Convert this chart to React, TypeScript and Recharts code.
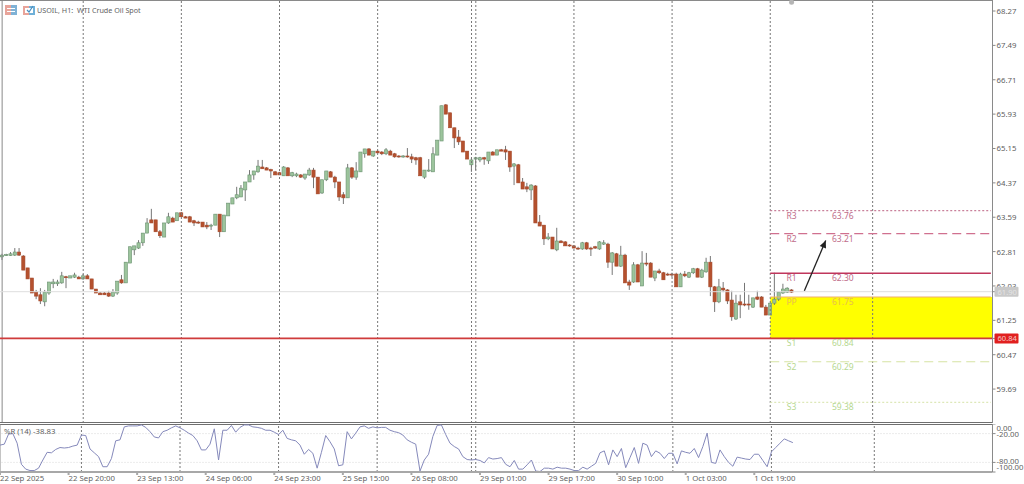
import React from 'react';
import {
  ComposedChart,
  Bar,
  Line,
  XAxis,
  YAxis,
  ReferenceLine,
  ReferenceArea,
  ReferenceDot,
} from 'recharts';

const opens = [
  62.69, 62.73, 62.72, 62.73, 62.8, 62.71, 62.44, 62.21, 61.89, 61.83,
  61.67, 61.87, 62.08, 62.08, 62.1, 62.24, 62.21, 62.23, 62.23, 62.19,
  62.26, 62.19, 61.96, 61.87, 61.87, 61.87, 61.8, 61.87, 62.17, 62.1,
  62.55, 62.85, 62.89, 63.01, 63.23, 63.53, 63.53, 63.26, 63.14, 63.46,
  63.57, 63.51, 63.69, 63.6, 63.6, 63.51, 63.48, 63.48, 63.41, 63.39,
  63.41, 63.66, 63.26, 63.62, 63.89, 64.03, 64.05, 64.21, 64.39, 64.55,
  64.62, 64.73, 64.71, 64.67, 64.62, 64.6, 64.53, 64.71, 64.53, 64.53,
  64.55, 64.48, 64.55, 64.66, 64.5, 64.14, 64.44, 64.62, 64.5, 64.39,
  64.1, 64.03, 64.71, 64.5, 64.62, 65.03, 65.14, 64.98, 65.09, 65.07,
  65.03, 65.09, 65.03, 64.98, 64.96, 64.98, 64.96, 64.94, 64.94, 64.5,
  64.64, 64.62, 65.0, 65.32, 66.14, 65.96, 65.62, 65.41, 65.32, 65.09,
  64.78, 64.91, 64.89, 64.94, 64.87, 65.07, 65.0, 65.12, 65.12, 65.09,
  64.75, 64.78, 64.39, 64.28, 64.21, 64.3, 63.48, 63.41, 63.1, 63.14,
  62.85, 63.05, 63.03, 62.96, 62.94, 62.89, 62.87, 63.01, 62.89, 62.92,
  62.87, 62.98, 62.98, 62.57, 62.76, 62.48, 62.73, 62.12, 62.12, 62.51,
  62.03, 62.55, 62.55, 62.21, 62.37, 62.33, 62.3, 62.3, 62.3, 62.01,
  62.3, 62.23, 62.33, 62.42, 62.23, 62.35, 62.57, 62.01, 61.67, 61.98,
  61.94, 61.71, 61.28, 61.67, 61.62, 61.62, 61.55, 61.78, 61.78, 61.55,
  61.37, 61.64, 61.73, 61.87, 61.89, 61.94,
];
const highs = [
  62.76, 62.76, 62.8, 62.89, 62.89, 62.73, 62.44, 62.21, 61.94, 61.98,
  61.94, 62.12, 62.19, 62.17, 62.35, 62.26, 62.26, 62.33, 62.26, 62.3,
  62.3, 62.19, 61.96, 61.89, 61.89, 61.92, 61.96, 62.14, 62.28, 62.57,
  62.92, 62.94, 63.07, 63.23, 63.57, 63.78, 63.53, 63.3, 63.46, 63.69,
  63.6, 63.69, 63.71, 63.62, 63.62, 63.53, 63.51, 63.48, 63.48, 63.44,
  63.66, 63.66, 63.64, 63.91, 64.03, 64.28, 64.32, 64.39, 64.66, 64.64,
  64.89, 64.89, 64.73, 64.69, 64.64, 64.62, 64.75, 64.73, 64.62, 64.6,
  64.57, 64.57, 64.71, 64.71, 64.5, 64.44, 64.64, 64.64, 64.53, 64.39,
  64.16, 64.8, 64.73, 64.84, 65.07, 65.14, 65.16, 65.09, 65.12, 65.09,
  65.16, 65.12, 65.05, 65.0, 65.0, 65.16, 65.03, 64.96, 64.96, 64.66,
  64.91, 65.18, 65.34, 66.12, 66.16, 65.96, 65.62, 65.57, 65.32, 65.09,
  64.94, 64.96, 64.96, 64.96, 65.07, 65.09, 65.12, 65.14, 65.21, 65.09,
  64.82, 64.8, 64.48, 64.37, 64.34, 64.32, 63.64, 63.41, 63.23, 63.14,
  63.35, 63.07, 63.05, 62.98, 62.96, 62.92, 63.03, 63.03, 62.92, 62.94,
  63.05, 63.07, 63.01, 62.8, 62.78, 62.94, 62.76, 62.17, 62.57, 62.53,
  62.82, 62.78, 62.57, 62.37, 62.42, 62.35, 62.33, 62.33, 62.33, 62.33,
  62.37, 62.35, 62.44, 62.44, 62.42, 62.67, 62.71, 62.03, 62.19, 62.12,
  61.96, 61.92, 61.83, 61.83, 62.1, 61.83, 61.76, 61.92, 61.8, 61.6,
  61.64, 62.33, 61.89, 62.08, 62.0, 61.96,
];
const lows = [
  62.62, 62.71, 62.71, 62.71, 62.71, 62.39, 62.19, 61.87, 61.73, 61.62,
  61.57, 61.83, 61.98, 62.03, 62.08, 61.98, 62.21, 62.21, 62.19, 62.17,
  62.19, 61.96, 61.87, 61.83, 61.83, 61.78, 61.78, 61.83, 62.08, 62.1,
  62.55, 62.73, 62.87, 62.94, 63.23, 63.46, 63.26, 63.12, 63.14, 63.44,
  63.48, 63.51, 63.6, 63.57, 63.48, 63.39, 63.44, 63.37, 63.32, 63.3,
  63.41, 63.14, 63.26, 63.62, 63.89, 64.0, 64.05, 63.96, 64.39, 64.44,
  64.6, 64.69, 64.66, 64.48, 64.55, 64.55, 64.53, 64.53, 64.5, 64.5,
  64.48, 64.44, 64.53, 64.25, 64.12, 64.12, 64.41, 64.5, 64.25, 63.96,
  63.89, 64.03, 64.46, 64.44, 64.62, 64.94, 65.0, 64.96, 65.05, 65.0,
  65.0, 65.0, 64.94, 64.94, 64.94, 64.94, 64.82, 64.78, 64.53, 64.46,
  64.62, 64.62, 65.0, 65.32, 65.93, 65.62, 65.16, 65.23, 65.07, 64.91,
  64.62, 64.66, 64.84, 64.78, 64.8, 65.0, 65.0, 65.09, 64.89, 64.62,
  64.32, 64.37, 64.23, 64.16, 63.98, 63.46, 63.39, 62.96, 63.07, 62.87,
  62.82, 63.01, 62.94, 62.92, 62.89, 62.85, 62.85, 62.85, 62.71, 62.87,
  62.85, 62.96, 62.44, 62.28, 62.48, 62.46, 62.1, 61.94, 62.1, 62.12,
  62.03, 62.48, 62.23, 62.14, 62.3, 62.17, 62.26, 62.23, 62.01, 62.01,
  62.23, 62.21, 62.3, 62.23, 62.21, 62.33, 61.8, 61.44, 61.64, 61.89,
  61.62, 61.24, 61.26, 61.3, 61.57, 61.49, 61.53, 61.71, 61.55, 61.37,
  61.37, 61.6, 61.69, 61.85, 61.87, 61.87,
];
const closes = [
  62.73, 62.74, 62.76, 62.8, 62.73, 62.39, 62.19, 61.87, 61.8, 61.69,
  61.89, 62.12, 62.12, 62.12, 62.26, 62.23, 62.26, 62.28, 62.19, 62.26,
  62.19, 61.96, 61.87, 61.83, 61.83, 61.8, 61.89, 62.14, 62.1, 62.57,
  62.92, 62.94, 63.01, 63.23, 63.46, 63.46, 63.26, 63.17, 63.46, 63.6,
  63.48, 63.69, 63.6, 63.57, 63.48, 63.46, 63.46, 63.37, 63.37, 63.41,
  63.66, 63.26, 63.64, 63.91, 64.03, 64.1, 64.25, 64.39, 64.55, 64.64,
  64.75, 64.69, 64.66, 64.64, 64.55, 64.55, 64.73, 64.53, 64.6, 64.57,
  64.5, 64.57, 64.66, 64.5, 64.12, 64.44, 64.64, 64.5, 64.39, 64.05,
  64.03, 64.71, 64.5, 64.64, 65.07, 65.14, 65.0, 65.09, 65.05, 65.03,
  65.12, 65.0, 64.96, 64.96, 64.98, 64.96, 64.91, 64.89, 64.53, 64.66,
  64.66, 65.03, 65.34, 66.12, 65.93, 65.62, 65.39, 65.3, 65.07, 64.91,
  64.89, 64.94, 64.94, 64.91, 65.07, 65.0, 65.12, 65.09, 65.07, 64.73,
  64.8, 64.37, 64.23, 64.23, 64.32, 63.46, 63.39, 63.1, 63.14, 62.87,
  63.05, 63.01, 62.94, 62.94, 62.89, 62.87, 63.01, 62.87, 62.87, 62.89,
  63.03, 63.01, 62.57, 62.78, 62.48, 62.73, 62.1, 62.05, 62.51, 62.12,
  62.55, 62.53, 62.23, 62.37, 62.33, 62.17, 62.28, 62.28, 62.01, 62.3,
  62.26, 62.33, 62.42, 62.23, 62.39, 62.57, 62.01, 61.67, 62.01, 61.94,
  61.69, 61.33, 61.64, 61.6, 61.6, 61.6, 61.76, 61.73, 61.55, 61.37,
  61.64, 61.73, 61.89, 61.96, 61.98, 61.89,
];
const williams = [
  -44, -42, -21, -20, -40, -84, -94, -97, -97, -92,
  -75, -59, -60, -53, -49, -50, -49, -46, -44, -23,
  -24, -52, -60, -68, -89, -89, -72, -35, -33, -6,
  -4, -4, -4, -2, -7, -16, -27, -29, -16, -13,
  -8, -4, -8, -13, -19, -24, -35, -54, -54, -42,
  -10, -75, -13, -13, -3, -17, -7, -2, -2, -6,
  -7, -9, -13, -13, -17, -22, -13, -30, -33, -35,
  -44, -63, -53, -61, -92, -59, -24, -37, -52, -87,
  -85, -16, -31, -19, -6, -4, -9, -6, -8, -7,
  -7, -13, -16, -18, -23, -33, -38, -42, -98, -75,
  -63, -26, -3, -2, -22, -40, -47, -52, -68, -74,
  -75, -74, -76, -81, -70, -73, -72, -70, -84, -89,
  -76, -94, -94, -85, -75, -98, -99, -92, -92, -94,
  -90, -92, -92, -94, -97, -97, -90, -94, -88, -82,
  -60, -56, -85, -54, -68, -51, -91, -70, -49, -82,
  -40, -44, -68, -56, -61, -72, -61, -61, -83, -56,
  -59, -61, -51, -70, -47, -19, -80, -82, -54, -68,
  -80, -88, -69, -71, -73, -74, -63, -63, -76, -89,
  -58, -49, -40, -31, -35, -38.83,
];

const TOTAL_BARS = 232;
const priceTicks = [68.27, 67.49, 66.71, 65.93, 65.15, 64.37, 63.59, 62.81, 62.03, 61.25, 60.47, 59.69];
const bidPrice = 61.9;
const lastLevel = 60.84;
const wprTicks = [0, -20, -80, -100];
const timeTickBars = [0, 16, 32, 48, 64, 80, 96, 112, 128, 144, 160, 176];
const timeTickLabels = [
  '22 Sep 2025', '22 Sep 20:00', '23 Sep 13:00', '24 Sep 06:00', '24 Sep 23:00', '25 Sep 15:00',
  '26 Sep 08:00', '29 Sep 01:00', '29 Sep 17:00', '30 Sep 10:00', '1 Oct 03:00', '1 Oct 19:00',
];
const separatorBars = [19, 42, 65, 88, 110, 111, 134, 157, 180, 204];

const pivotStart = 180;
const pivotEnd = 231;
const pivotNames = ['R3', 'R2', 'R1', 'PP', 'S1', 'S2', 'S3'];
const pivotLabels = ['63.76', '63.21', '62.30', '61.75', '60.84', '60.29', '59.38'];
const pivotLevels = [63.74, 63.22, 62.32, 61.78, 60.84, 60.31, 59.39];
const pivotColors = ['#c9809a', '#d0708f', '#c0365c', '#f0b070', '#c8d888', '#d6e4a4', '#dde8b8'];
const pivotTextColors = ['#c06c8a', '#c06c8a', '#c06c8a', '#e8bb50', '#b6d890', '#b6d890', '#b6d890'];
const pivotDash = ['2 2', '9 5', undefined, undefined, undefined, '9 5', '2 2'];

const rows = Array.from({ length: TOTAL_BARS }, (_, i) =>
  i < opens.length
    ? { bar: i, open: opens[i], high: highs[i], low: lows[i], close: closes[i], range: [lows[i], highs[i]], wpr: williams[i] }
    : { bar: i },
);

const FONT = '"Noto Sans", sans-serif';
const TEXT = '#5f5f5f';
const margin = { top: 0, right: 0, bottom: 0, left: 0 };
const xPadding = { left: 0, right: 2.5 };

function Candle(props: any) {
  const { x, y, width, height, payload } = props;
  if (payload.high === undefined) return null;
  const perPrice = height / (payload.high - payload.low);
  const cx = x + width / 2;
  const up = payload.close >= payload.open;
  const top = y + (payload.high - Math.max(payload.open, payload.close)) * perPrice;
  const bodyH = Math.abs(payload.close - payload.open) * perPrice;
  return (
    <g>
      <line x1={cx} x2={cx} y1={y} y2={y + height} stroke="#666" strokeWidth={0.9} />
      <rect
        x={cx - 1.6}
        y={top}
        width={3.2}
        height={Math.max(bodyH, 1)}
        fill={up ? '#9cc49c' : '#b5512e'}
        stroke={up ? '#6a9270' : '#a5482a'}
        strokeWidth={0.6}
      />
    </g>
  );
}

function PriceTick({ x, y, payload }: any) {
  const value = payload.value;
  const text = value.toFixed(2);
  if (value === bidPrice || value === lastLevel) {
    const bid = value === bidPrice;
    return (
      <g>
        <rect x={x - 3} y={y - 5} width={24} height={10} fill={bid ? '#c9c9c9' : '#e1201f'} rx={1} />
        <text x={x} y={y + 3} fontSize={7.6} fontFamily={FONT} fill={bid ? '#e4e4e4' : '#f5c9c9'}>
          {text}
        </text>
      </g>
    );
  }
  return (
    <text x={x - 1} y={y + 3} fontSize={7.8} fontFamily={FONT} fill={TEXT}>
      {text}
    </text>
  );
}

function WprTick({ x, y, payload }: any) {
  const value = payload.value;
  const nudge = value === 0 ? 4 : value === -100 ? -5 : value === -80 ? -1 : 0;
  return (
    <text x={x - 1} y={y + 3 + nudge} fontSize={7.8} fontFamily={FONT} fill={TEXT}>
      {value.toFixed(2)}
    </text>
  );
}

function TimeTick({ x, y, payload }: any) {
  const label = timeTickLabels[timeTickBars.indexOf(payload.value)];
  return (
    <text x={x} y={y + 4} fontSize={7.8} fontFamily={FONT} fill={TEXT}>
      {label}
    </text>
  );
}

function Arrow({ x1, y1, x2, y2 }: any) {
  const a = Math.atan2(y2 - y1, x2 - x1);
  const head = [a + 2.7, a - 2.7].map((t) => `${x2 + 8 * Math.cos(t)},${y2 + 8 * Math.sin(t)}`);
  return (
    <g>
      <line x1={x1} y1={y1} x2={x2} y2={y2} stroke="#222" strokeWidth={1.3} />
      <polygon points={`${x2},${y2} ${head[0]} ${head[1]}`} fill="#222" />
    </g>
  );
}

function PivotLine({ x1, y1, x2, y2, stroke, strokeDasharray, strokeWidth }: any) {
  return <line x1={x1} y1={y1} x2={x2 + 3} y2={y2} stroke={stroke} strokeDasharray={strokeDasharray} strokeWidth={strokeWidth} />;
}

function PivotBand({ x, y, width, height, fill }: any) {
  return <rect x={x + 2.1} y={y} width={width + 0.2} height={height} fill={fill} />;
}

function LegendIcons() {
  return (
    <svg width={32} height={10} style={{ position: 'absolute', left: 5, top: 5 }}>
      <rect x={0} y={0} width={6} height={10} fill="#e8a49a" />
      <rect x={6} y={0} width={6} height={10} fill="#7fb2d6" />
      <rect x={2} y={3} width={8} height={1} fill="#fff" />
      <rect x={2} y={6} width={8} height={1} fill="#fff" />
      <rect x={18} y={1} width={6} height={9} fill="#e8a49a" />
      <rect x={24} y={1} width={6} height={9} fill="#6fb0d8" />
      <rect x={20} y={3} width={8} height={5} fill="#fff" />
      <path d="M22 5 l2 2 l4 -6" stroke="#4a8fc0" strokeWidth={1.2} fill="none" />
    </svg>
  );
}

export default function App() {
  return (
    <div style={{ position: 'absolute', left: 0, top: 0, width: 1024, height: 484, overflow: 'hidden', background: '#fff' }}>
      <div style={{ position: 'absolute', left: -0.5, top: 0 }}>
        <ComposedChart width={1024.5} height={423} data={rows} margin={margin} barGap={0}>
          <XAxis dataKey="bar" type="category" hide padding={xPadding} />
          <YAxis
            orientation="right"
            width={32}
            domain={[58.92, 68.52]}
            ticks={[...priceTicks, bidPrice, lastLevel]}
            interval={0}
            allowDataOverflow
            tick={<PriceTick />}
            tickSize={3}
            stroke="#8a8a8a"
          />
          <ReferenceLine y={68.52} stroke="#8a8a8a" strokeWidth={2} />
          <ReferenceLine x={0} stroke="#8a8a8a" strokeWidth={1} />
          <ReferenceLine y={bidPrice} stroke="#dedede" strokeWidth={1} />
          <ReferenceArea
            x1={pivotStart}
            x2={pivotEnd}
            y1={lastLevel}
            y2={pivotLevels[3]}
            fill="#ffff00"
            fillOpacity={1}
            stroke="none"
            ifOverflow="visible"
            shape={<PivotBand />}
          />
          {separatorBars.map((b) => (
            <ReferenceLine key={b} x={b} stroke="#777" strokeDasharray="2 2" />
          ))}
          {pivotLevels.map((level, i) =>
            i === 4 ? null : (
              <ReferenceLine
                key={pivotNames[i]}
                segment={[{ x: pivotStart, y: level }, { x: pivotEnd, y: level }]}
                stroke={pivotColors[i]}
                strokeDasharray={pivotDash[i]}
                strokeWidth={i === 2 ? 1.5 : 1.2}
                shape={<PivotLine />}
              />
            ),
          )}
          <ReferenceLine y={lastLevel} stroke="#cf3b3b" strokeWidth={1.6} />
          <ReferenceLine y={58.92} stroke="#6f6f6f" strokeWidth={2} />
          <ReferenceLine
            segment={[{ x: 188, y: 61.92 }, { x: 193, y: 63.06 }]}
            shape={<Arrow />}
          />
          <ReferenceDot x={185} y={68.47} r={2.5} fill="#b5b5b5" stroke="none" />
          {pivotLevels.map((level, i) => (
            <ReferenceDot
              key={pivotNames[i] + 'name'}
              x={185}
              y={level}
              r={0}
              shape={(p: any) => (
                <text x={p.cx} y={p.cy + 8} textAnchor="middle" fontSize={8.5} fontFamily={FONT} fill={pivotTextColors[i]}>
                  {pivotNames[i]}
                </text>
              )}
            />
          ))}
          {pivotLevels.map((level, i) => (
            <ReferenceDot
              key={pivotNames[i] + 'value'}
              x={197}
              y={level}
              r={0}
              shape={(p: any) => (
                <text x={p.cx} y={p.cy + 8} textAnchor="middle" fontSize={8.5} fontFamily={FONT} fill={pivotTextColors[i]}>
                  {pivotLabels[i]}
                </text>
              )}
            />
          ))}
          <Bar dataKey="range" barSize={4} shape={<Candle />} isAnimationActive={false} />
        </ComposedChart>
      </div>

      <div style={{ position: 'absolute', left: -0.5, top: 424 }}>
        <ComposedChart width={1024.5} height={60} data={rows} margin={margin}>
          <XAxis
            dataKey="bar"
            type="category"
            height={12}
            padding={xPadding}
            ticks={timeTickBars}
            interval={0}
            tick={<TimeTick />}
            tickSize={3}
            stroke="#a8a8a8"
            strokeWidth={2}
          />
          <YAxis
            orientation="right"
            width={32}
            domain={[-100, 0]}
            ticks={wprTicks}
            interval={0}
            tick={<WprTick />}
            tickSize={3}
            stroke="#8a8a8a"
          />
          <ReferenceLine y={0} stroke="#6f6f6f" strokeWidth={2} />
          <ReferenceLine y={-20} stroke="#d8d8d8" strokeDasharray="1 2" />
          <ReferenceLine y={-80} stroke="#d8d8d8" strokeDasharray="1 2" />
          <ReferenceLine x={0} stroke="#8a8a8a" />
          {separatorBars.map((b) => (
            <ReferenceLine key={b} x={b} stroke="#777" strokeDasharray="2 2" />
          ))}
          <Line dataKey="wpr" stroke="#8589bb" strokeWidth={1} dot={false} isAnimationActive={false} />
        </ComposedChart>
      </div>

      <LegendIcons />
      <div style={{ position: 'absolute', left: 37, top: 4, fontFamily: FONT, fontSize: 7.2, lineHeight: '12px', color: TEXT, whiteSpace: 'pre' }}>
        {'USOIL, H1:  WTI Crude Oil Spot'}
      </div>
      <div style={{ position: 'absolute', left: 4, top: 425, fontFamily: FONT, fontSize: 7.8, lineHeight: '12px', color: TEXT, whiteSpace: 'pre' }}>
        {'%R (14) -38.83'}
      </div>
    </div>
  );
}
